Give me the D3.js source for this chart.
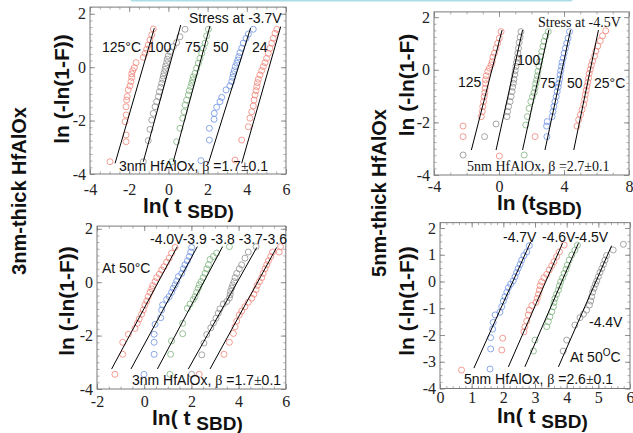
<!DOCTYPE html>
<html>
<head>
<meta charset="utf-8">
<script src="https://cdn.jsdelivr.net/npm/d3@7/dist/d3.min.js"></script>
<style>
  html, body { margin: 0; padding: 0; background: #fff; }
  svg { display: block; }
</style>
</head>
<body>
<svg id="fig" width="633" height="433"></svg>
<script>
// ---------- Weibull data: x = ln(t_SBD), y = ln(-ln(1-F)) ----------

// 3 nm HfAlOx, stress at -3.7 V, several temperatures
const tempLabels3nm = ["125°C", "100", "75", "50", "24"];
const t3_125 = [[-2.98,-3.54],[-2.16,-2.79],[-2.16,-2.54],[-2.21,-2.04],[-2.16,-1.79],[-2.16,-1.48],[-2.13,-1.23],[-2.10,-1.10],[-2.05,-0.85],[-1.96,-0.70],[-1.91,-0.54],[-1.87,-0.38],[-1.87,-0.25],[-1.82,-0.13],[-1.74,-0.02],[-1.65,0.17],[-1.28,0.37],[-1.19,0.52],[-1.11,0.67],[-1.03,0.83],[-0.94,1.02],[-0.85,1.21],[-0.77,1.43]];
const t3_100 = [[-1.28,-3.54],[-1.03,-2.75],[-0.94,-2.33],[-0.85,-1.98],[-0.77,-1.73],[-0.68,-1.48],[-0.60,-1.29],[-0.51,-1.10],[-0.46,-0.92],[-0.39,-0.75],[-0.34,-0.60],[-0.29,-0.45],[-0.26,-0.33],[-0.22,-0.21],[-0.17,-0.08],[-0.14,0.04],[-0.09,0.17],[-0.06,0.30],[-0.01,0.42],[0.08,0.58],[0.25,0.77],[0.42,0.92],[0.59,1.14],[0.85,1.42]];
const t3_75 = [[0.17,-3.54],[0.42,-2.79],[0.59,-2.29],[0.73,-1.91],[0.80,-1.67],[0.85,-1.42],[0.93,-1.23],[1.02,-1.04],[1.07,-0.88],[1.14,-0.73],[1.19,-0.60],[1.24,-0.48],[1.27,-0.36],[1.36,-0.23],[1.44,-0.04],[1.53,0.15],[1.61,0.33],[1.70,0.52],[1.78,0.71],[1.87,0.90],[1.95,1.17],[2.04,1.42]];
const t3_50 = [[1.66,-3.50],[2.09,-2.73],[2.09,-2.29],[2.33,-1.95],[2.34,-1.73],[2.46,-1.50],[2.63,-1.29],[2.72,-1.13],[2.94,-0.85],[3.14,-0.70],[3.23,-0.54],[3.28,-0.38],[3.31,-0.25],[3.36,-0.13],[3.41,0.02],[3.49,0.15],[3.54,0.27],[3.59,0.39],[3.65,0.54],[3.74,0.71],[3.82,0.90],[3.96,1.08],[4.08,1.24],[4.33,1.42]];
const t3_24 = [[3.40,-3.48],[3.74,-2.73],[4.08,-2.23],[4.16,-1.91],[4.25,-1.67],[4.33,-1.45],[4.37,-1.23],[4.42,-1.04],[4.47,-0.88],[4.51,-0.73],[4.54,-0.58],[4.59,-0.45],[4.67,-0.29],[4.76,-0.13],[4.84,0.02],[4.93,0.17],[5.01,0.33],[5.10,0.52],[5.18,0.71],[5.27,0.90],[5.35,1.08],[5.44,1.27],[5.53,1.42]];
// fitted lines [x0, y0, x1, y1]
const t3Fits = [[-2.72,-3.60,-0.72,1.46],[-1.28,-3.54,0.63,1.58],[0.25,-3.54,2.12,1.54],[2.04,-3.60,4.19,1.46],[3.74,-3.60,5.73,1.52]];

// 5 nm HfAlOx, stress at -4.5 V, several temperatures
const tempLabels5nm = ["125", "100", "75", "50", "25°C"];
const t5_125 = [[-2.21,-2.14],[-2.21,-2.54],[0.02,-3.28],[-1.09,-1.78],[-1.03,-1.59],[-1.00,-1.40],[-0.95,-1.21],[-0.91,-1.02],[-0.87,-0.87],[-0.85,-0.70],[-0.83,-0.53],[-0.83,-0.38],[-0.79,-0.23],[-0.69,-0.06],[-0.59,0.06],[-0.48,0.19],[-0.42,0.31],[-0.38,0.48],[-0.28,0.63],[-0.18,0.82],[-0.08,1.01],[0.02,1.20],[0.13,1.45]];
const t5_100 = [[-2.21,-3.24],[-0.89,-2.54],[-0.18,-2.06],[0.49,-1.78],[0.53,-1.59],[0.59,-1.40],[0.68,-1.21],[0.74,-1.02],[0.80,-0.83],[0.84,-0.66],[0.88,-0.51],[0.92,-0.36],[0.96,-0.19],[1.00,-0.03],[1.04,0.13],[1.08,0.28],[1.12,0.44],[1.16,0.63],[1.20,0.82],[1.24,1.04],[1.30,1.24],[1.35,1.45]];
const t5_75 = [[1.55,-3.24],[1.65,-2.10],[1.75,-1.78],[1.85,-1.47],[1.96,-1.21],[2.06,-1.02],[2.16,-0.87],[2.22,-0.70],[2.26,-0.53],[2.32,-0.38],[2.36,-0.23],[2.40,-0.06],[2.46,0.13],[2.51,0.31],[2.57,0.50],[2.63,0.69],[2.71,0.89],[2.77,1.08],[2.87,1.27],[3.03,1.45]];
const t5_50 = [[2.93,-2.14],[2.95,-2.54],[2.97,-1.97],[3.27,-1.78],[3.32,-1.59],[3.38,-1.40],[3.44,-1.21],[3.52,-1.02],[3.58,-0.83],[3.64,-0.66],[3.68,-0.51],[3.73,-0.36],[3.76,-0.19],[3.80,-0.03],[3.85,0.13],[3.88,0.28],[3.95,0.44],[4.01,0.63],[4.09,0.82],[4.17,1.01],[4.25,1.20],[4.34,1.45]];
const t5_25 = [[2.22,-2.54],[4.80,-2.14],[4.90,-1.90],[5.01,-1.71],[5.11,-1.52],[5.21,-1.32],[5.27,-1.13],[5.31,-0.94],[5.37,-0.78],[5.41,-0.62],[5.47,-0.47],[5.51,-0.32],[5.55,-0.14],[5.62,0.01],[5.68,0.17],[5.76,0.33],[5.88,0.52],[5.96,0.71],[6.08,0.90],[6.23,1.10],[6.37,1.29],[6.57,1.48]];
const t5Fits = [[-1.70,-3.05,0.19,1.51],[-0.18,-3.05,1.45,1.51],[1.45,-3.05,3.07,1.51],[2.83,-3.05,4.40,1.51],[4.60,-3.05,6.12,1.51]];

// 3 nm HfAlOx at 50 °C, several stress voltages
const voltLabels3nm = "-4.0V-3.9 -3.8 -3.7-3.6";
const v3_40 = [[-1.24,-3.45],[-0.91,-2.70],[-0.91,-2.25],[-0.67,-1.95],[-0.39,-1.73],[-0.29,-1.54],[-0.21,-1.38],[-0.11,-1.20],[-0.04,-1.04],[0.03,-0.85],[0.11,-0.70],[0.17,-0.54],[0.25,-0.38],[0.32,-0.25],[0.36,-0.13],[0.46,0.02],[0.53,0.17],[0.64,0.30],[0.74,0.46],[0.84,0.58],[0.95,0.75],[1.06,0.90],[1.16,1.09],[1.31,1.30]];
const v3_39 = [[-0.01,-3.45],[0.42,-2.70],[0.42,-2.25],[0.42,-1.95],[0.46,-1.58],[0.70,-1.33],[0.74,-1.04],[0.78,-0.85],[0.95,-0.65],[1.06,-0.54],[1.16,-0.38],[1.23,-0.23],[1.31,-0.10],[1.38,0.04],[1.45,0.21],[1.59,0.33],[1.66,0.50],[1.73,0.65],[1.83,0.80],[1.91,0.96],[1.97,1.13],[2.01,1.30]];
const v3_38 = [[1.09,-3.45],[1.12,-2.70],[1.16,-2.20],[1.63,-1.93],[1.63,-1.54],[1.83,-0.98],[1.94,-0.82],[2.08,-0.65],[2.15,-0.54],[2.22,-0.38],[2.29,-0.23],[2.33,-0.10],[2.41,0.02],[2.50,0.17],[2.58,0.33],[2.65,0.50],[2.72,0.65],[2.79,0.85],[2.93,0.96],[3.07,1.09],[3.61,1.33]];
const v3_37 = [[2.01,-3.45],[2.44,-2.72],[2.53,-2.28],[2.65,-1.96],[2.82,-1.71],[2.93,-1.53],[3.04,-1.35],[3.14,-1.16],[3.21,-1.00],[3.35,-0.82],[3.50,-0.72],[3.61,-0.59],[3.64,-0.47],[3.66,-0.34],[3.71,-0.22],[3.75,-0.10],[3.81,0.02],[3.85,0.17],[3.92,0.33],[4.03,0.50],[4.13,0.65],[4.27,0.90],[4.41,1.13],[4.74,1.33]];
const v3_36 = [[2.33,-3.45],[3.38,-2.70],[3.61,-2.25],[3.78,-1.92],[3.85,-1.67],[3.92,-1.46],[4.03,-1.23],[4.13,-1.08],[4.27,-0.92],[4.41,-0.75],[4.56,-0.60],[4.65,-0.45],[4.74,-0.28],[4.79,-0.12],[4.88,0.02],[4.98,0.17],[5.04,0.33],[5.12,0.50],[5.19,0.65],[5.26,0.80],[5.36,0.96],[5.44,1.13],[5.72,1.13],[5.78,1.33]];
const v3Fits = [[-1.38,-3.25,1.40,1.33],[-0.56,-3.25,2.25,1.33],[0.56,-3.25,3.32,1.33],[1.87,-3.25,4.77,1.30],[2.79,-3.25,5.61,1.30]];

// 5 nm HfAlOx at 50 °C, several stress voltages
const v5_47 = [[1.58,-3.27],[1.60,-2.52],[1.60,-2.10],[1.66,-1.78],[1.68,-1.53],[1.74,-1.25],[1.89,-1.15],[1.95,-0.94],[2.00,-0.73],[2.05,-0.57],[2.11,-0.40],[2.16,-0.23],[2.23,-0.10],[2.31,0.02],[2.37,0.18],[2.42,0.34],[2.47,0.49],[2.53,0.64],[2.58,0.80],[2.65,0.97],[2.74,1.11],[2.82,1.34]];
const v5_46 = [[0.68,-3.31],[1.95,-2.56],[1.98,-2.12],[2.65,-1.88],[2.68,-1.69],[2.74,-1.48],[2.79,-1.25],[2.82,-1.07],[2.90,-0.90],[3.03,-0.78],[3.07,-0.63],[3.11,-0.48],[3.14,-0.32],[3.16,-0.16],[3.21,-0.01],[3.28,0.14],[3.37,0.27],[3.45,0.43],[3.53,0.59],[3.60,0.74],[3.68,0.93],[3.77,1.11],[3.92,1.36]];
const v5_45 = [[2.95,-2.60],[3.00,-2.19],[3.37,-1.69],[3.42,-1.50],[3.47,-1.32],[3.53,-1.13],[3.58,-0.94],[3.60,-0.78],[3.63,-0.63],[3.68,-0.48],[3.74,-0.32],[3.77,-0.16],[3.81,-0.01],[3.87,0.14],[3.92,0.30],[3.98,0.46],[4.02,0.61],[4.08,0.80],[4.16,0.99],[4.26,1.17],[4.34,1.36]];
const v5_44 = [[3.89,-2.60],[4.00,-2.19],[4.26,-1.63],[4.42,-1.35],[4.53,-1.22],[4.63,-1.07],[4.72,-0.88],[4.76,-0.73],[4.79,-0.57],[4.82,-0.40],[4.86,-0.25],[4.91,-0.10],[4.95,0.02],[5.00,0.18],[5.05,0.34],[5.11,0.49],[5.16,0.64],[5.21,0.80],[5.26,0.97],[5.47,1.18],[5.79,1.39]];
const v5Fits = [[1.07,-3.24,2.86,1.47],[2.16,-3.19,3.87,1.43],[2.68,-3.19,4.37,1.43],[3.74,-3.19,5.42,1.34]];

// tick values and labels
const xTicks3nmT = [-4, -2, 0, 2, 4, 6];
const xTicks5nmT = [-4, 0, 4, 8];
const xTicks3nmV = [-2, 0, 2, 4, 6];
const xTicks5nmV = [0, 1, 2, 3, 4, 5, 6];
const yTicksMajor = [-4, -2, 0, 2];
const yTicksUnit = [-4, -3, -2, -1, 0, 1, 2];

// ---------- drawing ----------
const SANS = "'Liberation Sans', Arial, Helvetica, sans-serif";
const SERIF = "'Liberation Serif', 'Times New Roman', Times, serif";
const RED = "#f08478", GRAY = "#8f8f8f", GREEN = "#7fb27f", BLUE = "#6d92e2";

const svg = d3.select("#fig");

// light cyan bar along the top edge
svg.append("rect").attr("x", 130).attr("y", -4).attr("width", 443).attr("height", 5.5)
  .attr("rx", 3).attr("fill", "#aadde7");

const fmt = d => String(d).replace("\u2212", "-");

function drawPanel(p) {
  const g = svg.append("g");
  const x = d3.scaleLinear().domain(p.xDomain).range([p.left, p.right]);
  const y = d3.scaleLinear().domain(p.yDomain).range([p.bottom, p.top]);
  const eps = 1e-9;
  const xMinor = d3.range(Math.ceil(p.xDomain[0] / p.xMinor) * p.xMinor, p.xDomain[1] + eps, p.xMinor);
  const yMinor = d3.range(Math.ceil(p.yDomain[0] / p.yMinor) * p.yMinor, p.yDomain[1] + eps, p.yMinor);

  // minor ticks, inward on all four sides
  [[d3.axisBottom(x), `translate(0,${p.bottom})`, xMinor],
   [d3.axisTop(x), `translate(0,${p.top})`, xMinor],
   [d3.axisLeft(y), `translate(${p.left},0)`, yMinor],
   [d3.axisRight(y), `translate(${p.right},0)`, yMinor]]
   .forEach(([ax, tr, minor]) => {
    const a1 = g.append("g").attr("transform", tr)
      .call(ax.tickValues(minor).tickSize(-2.5).tickSizeOuter(0).tickFormat(""));
    a1.select(".domain").remove();
    a1.selectAll("line").attr("stroke", "#9a9a9a").attr("stroke-width", 0.8);
  });
  // major ticks, labelled on bottom and left
  [[d3.axisBottom(x), `translate(0,${p.bottom})`, p.xTicks, true, "x"],
   [d3.axisTop(x), `translate(0,${p.top})`, p.xTicks, false, "x"],
   [d3.axisLeft(y), `translate(${p.left},0)`, p.yTicks, true, "y"],
   [d3.axisRight(y), `translate(${p.right},0)`, p.yTicks, false, "y"]]
   .forEach(([ax, tr, vals, labelled, dim]) => {
    ax.tickValues(vals).tickSize(-5).tickSizeOuter(0)
      .tickPadding(dim === "x" ? p.xPad : p.yPad)
      .tickFormat(labelled ? fmt : "");
    const a = g.append("g").attr("transform", tr).call(ax);
    a.select(".domain").remove();
    a.selectAll("line").attr("stroke", "#888").attr("stroke-width", 0.9);
    a.selectAll("text").attr("font-family", SERIF).attr("font-size", 16).attr("fill", "#222");
  });

  g.append("rect").attr("x", p.left).attr("y", p.top)
    .attr("width", p.right - p.left).attr("height", p.bottom - p.top)
    .attr("fill", "none").attr("stroke", "#7a7a7a").attr("stroke-width", 1);

  // data points
  p.series.forEach(s => {
    g.append("g").selectAll("circle").data(s.pts).join("circle")
      .attr("cx", d => x(d[0])).attr("cy", d => y(d[1])).attr("r", 3)
      .attr("fill", "none").attr("stroke", s.color).attr("stroke-width", 0.8);
  });
  // Weibull fit lines
  g.append("g").selectAll("line").data(p.fits).join("line")
    .attr("x1", d => x(d[0])).attr("y1", d => y(d[1]))
    .attr("x2", d => x(d[2])).attr("y2", d => y(d[3]))
    .attr("stroke", "#000").attr("stroke-width", 1);

  // axis titles
  g.append("text")
    .attr("transform", `translate(${p.yTitleX},${p.yTitleY}) rotate(-90)`)
    .attr("text-anchor", "middle").attr("font-family", SANS).attr("font-weight", "bold")
    .attr("font-size", 21).attr("fill", "#111").text(p.yTitle);
  const xt = g.append("text").attr("x", p.xTitleX).attr("y", p.xTitleY)
    .attr("font-family", SANS).attr("font-weight", "bold").attr("font-size", 21).attr("fill", "#111");
  xt.append("tspan").text(p.xTitleMain);
  xt.append("tspan").attr("dy", 5).attr("font-size", 19).text("SBD)");
  return { g, x, y };
}

function label(g, xp, yp, parts, family, size) {
  const t = g.append("text").attr("x", xp).attr("y", yp)
    .attr("font-family", family || SANS).attr("font-size", size || 14).attr("fill", "#111");
  parts.forEach(pt => {
    if (typeof pt === "string") t.append("tspan").text(pt);
    else {
      const s = t.append("tspan").text(pt.t);
      if (pt.f) s.attr("font-family", pt.f);
      if (pt.s) s.attr("font-size", pt.s);
      if (pt.dy) s.attr("dy", pt.dy);
    }
  });
  return t;
}

// Panel: 3 nm, temperature dependence
const P1 = drawPanel({
  left: 90, right: 286, top: 7.1, bottom: 174,
  xDomain: [-4, 6], yDomain: [-4, 2.25], xMinor: 0.5, yMinor: 0.25,
  xTicks: xTicks3nmT, yTicks: yTicksMajor, xPad: 10, yPad: 4,
  series: [
    { pts: t3_125, color: RED }, { pts: t3_100, color: GRAY }, { pts: t3_75, color: GREEN },
    { pts: t3_50, color: BLUE }, { pts: t3_24, color: RED }
  ],
  fits: t3Fits,
  yTitle: "ln (-ln(1-F))", yTitleX: 69, yTitleY: 89,
  xTitleMain: "ln( t ", xTitleX: 143, xTitleY: 213
});
label(P1.g, 189, 23, ["Stress at -3.7V"]);
[[102, tempLabels3nm[0]], [148, tempLabels3nm[1]], [185, tempLabels3nm[2]], [213, tempLabels3nm[3]], [252, tempLabels3nm[4]]]
  .forEach(([xp, s]) => label(P1.g, xp, 52, [s]));
label(P1.g, 119, 171, ["3nm HfAlOx,  ", { t: "β", f: SERIF }, " =1.7", { t: "±", f: SERIF }, "0.1"]);

// Panel: 5 nm, temperature dependence
const P2 = drawPanel({
  left: 434, right: 629, top: 11.9, bottom: 175,
  xDomain: [-4, 8], yDomain: [-4, 2.2], xMinor: 1, yMinor: 0.25,
  xTicks: xTicks5nmT, yTicks: yTicksMajor, xPad: 6, yPad: 4,
  series: [
    { pts: t5_125, color: RED }, { pts: t5_100, color: GRAY }, { pts: t5_75, color: GREEN },
    { pts: t5_50, color: BLUE }, { pts: t5_25, color: RED }
  ],
  fits: t5Fits,
  yTitle: "ln (-ln(1-F)", yTitleX: 414, yTitleY: 85,
  xTitleMain: "ln (t", xTitleX: 497, xTitleY: 210
});
label(P2.g, 538, 27, ["Stress at -4.5V"], SERIF, 14);
label(P2.g, 458, 87, [tempLabels5nm[0]]);
label(P2.g, 517, 65, [tempLabels5nm[1]]);
label(P2.g, 540, 88, [tempLabels5nm[2]]);
label(P2.g, 567, 88, [tempLabels5nm[3]]);
label(P2.g, 594, 88, [tempLabels5nm[4]]);
label(P2.g, 467, 171, ["5nm HfAlOx, ", { t: "β", f: SERIF }, " =2.7", "±", "0.1"], SERIF, 14);

// Panel: 3 nm, voltage dependence
const P3 = drawPanel({
  left: 97, right: 285.8, top: 226.1, bottom: 389,
  xDomain: [-2, 6], yDomain: [-4, 2.1], xMinor: 0.5, yMinor: 0.25,
  xTicks: xTicks3nmV, yTicks: yTicksMajor, xPad: 7, yPad: 4,
  series: [
    { pts: v3_40, color: RED }, { pts: v3_39, color: BLUE }, { pts: v3_38, color: GREEN },
    { pts: v3_37, color: GRAY }, { pts: v3_36, color: RED }
  ],
  fits: v3Fits,
  yTitle: "ln (-ln(1-F))", yTitleX: 74, yTitleY: 301,
  xTitleMain: "ln( t ", xTitleX: 152, xTitleY: 424.5
});
label(P3.g, 150, 244, [voltLabels3nm]);
label(P3.g, 102, 273, ["At 50°C"]);
label(P3.g, 132, 385, ["3nm HfAlOx, ", { t: "β", f: SERIF }, " =1.7", { t: "±", f: SERIF }, "0.1"]);

// Panel: 5 nm, voltage dependence
const P4 = drawPanel({
  left: 440, right: 630, top: 222.65, bottom: 388.5,
  xDomain: [0, 6], yDomain: [-4, 2.2], xMinor: 0.2, yMinor: 0.25,
  xTicks: xTicks5nmV, yTicks: yTicksUnit, xPad: 3, yPad: 4,
  series: [
    { pts: v5_47, color: BLUE }, { pts: v5_46, color: RED },
    { pts: v5_45, color: GREEN }, { pts: v5_44, color: GRAY }
  ],
  fits: v5Fits,
  yTitle: "ln (-ln(1-F))", yTitleX: 414, yTitleY: 301,
  xTitleMain: "ln( t ", xTitleX: 497, xTitleY: 422.5
});
label(P4.g, 503, 242, ["-4.7V"]);
label(P4.g, 542, 242, ["-4.6V-4.5V"]);
label(P4.g, 589, 327, ["-4.4V"]);
label(P4.g, 570, 362, ["At 50", { t: "O", s: 10, dy: -6 }, { t: "C", dy: 6 }]);
label(P4.g, 464, 384, ["5nm HfAlOx, ", { t: "β", f: SERIF }, " =2.6", { t: "±", f: SERIF }, "0.1"]);

// row labels for film thickness
svg.append("text").attr("transform", "translate(26,191) rotate(-90)")
  .attr("text-anchor", "middle").attr("font-family", SANS).attr("font-weight", "bold")
  .attr("font-size", 20).attr("fill", "#111").text("3nm-thick HfAlOx");
svg.append("text").attr("transform", "translate(386,193) rotate(-90)")
  .attr("text-anchor", "middle").attr("font-family", SANS).attr("font-weight", "bold")
  .attr("font-size", 20).attr("fill", "#111").text("5nm-thick HfAlOx");
</script>
</body>
</html>
